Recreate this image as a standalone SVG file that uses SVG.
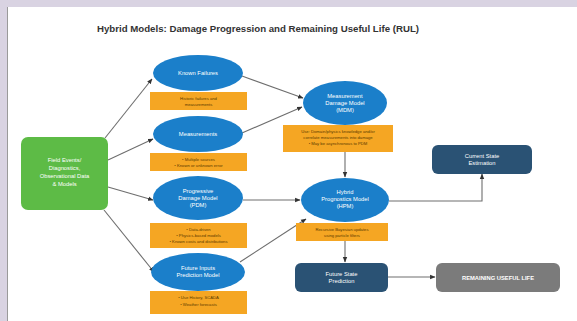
<svg xmlns="http://www.w3.org/2000/svg" width="577" height="321" viewBox="0 0 577 321">
<defs>
<marker id="ah" viewBox="0 0 10 10" refX="9" refY="5" markerWidth="5" markerHeight="5" orient="auto-start-reverse">
<path d="M0,1 L10,5 L0,9 z" fill="#333"/>
</marker>
<style>
.t{font-family:"Liberation Sans",Arial,sans-serif;}
.title{font-size:9.8px;font-weight:bold;fill:#333;}
.ell{fill:#1b7fca;}
.lab{font-size:5.8px;fill:#fff;text-anchor:middle;}
.note{fill:#f5a623;}
.nt{font-size:4.2px;fill:#5a3a00;text-anchor:middle;}
.dk{fill:#2a5274;}
.gr{fill:#7b7b7b;}
.con{stroke:#6e6e6e;stroke-width:1.1;fill:none;}
</style>
</defs>
<rect x="0" y="0" width="577" height="321" fill="#d9d3e2"/>
<rect x="8" y="7" width="569" height="314" fill="#ffffff"/>
<line x1="7.5" y1="7" x2="7.5" y2="321" stroke="#9a9a9a" stroke-width="1"/>
<text class="t title" x="258" y="32" text-anchor="middle" textLength="322" lengthAdjust="spacingAndGlyphs">Hybrid Models: Damage Progression and Remaining Useful Life (RUL)</text>

<g id="connectors">
<line class="con" x1="105" y1="138" x2="152" y2="79" marker-end="url(#ah)"/>
<line class="con" x1="108" y1="160" x2="153" y2="139" marker-end="url(#ah)"/>
<line class="con" x1="108" y1="187" x2="153" y2="200" marker-end="url(#ah)"/>
<line class="con" x1="104" y1="210" x2="154" y2="272" marker-end="url(#ah)"/>
<line class="con" x1="242" y1="76" x2="303" y2="98" marker-end="url(#ah)"/>
<line class="con" x1="242" y1="133" x2="302" y2="107" marker-end="url(#ah)"/>
<line class="con" x1="345" y1="152" x2="345" y2="177" marker-end="url(#ah)"/>
<line class="con" x1="243" y1="200" x2="300" y2="200" marker-end="url(#ah)"/>
<line class="con" x1="240" y1="262" x2="306" y2="219" marker-end="url(#ah)"/>
<polyline class="con" points="389,201 482,201 482,174" marker-end="url(#ah)"/>
<line class="con" x1="345" y1="241" x2="345" y2="262" marker-end="url(#ah)"/>
<line class="con" x1="388" y1="277" x2="435" y2="277" marker-end="url(#ah)"/>
</g>

<g id="field">
<rect x="21" y="137" width="87" height="73" rx="7" fill="#5dbb46"/>
<text class="t lab" x="64.5" y="162">Field Events/</text>
<text class="t lab" x="64.5" y="170">Diagnostics,</text>
<text class="t lab" x="64.5" y="178">Observational Data</text>
<text class="t lab" x="64.5" y="186">&amp; Models</text>
</g>

<g id="known">
<ellipse class="ell" cx="198" cy="73" rx="45" ry="18"/>
<text class="t lab" x="198" y="75">Known Failures</text>
<rect class="note" x="150" y="92" width="97" height="18"/>
<text class="t nt" x="198.5" y="99.5">Historic failures and</text>
<text class="t nt" x="198.5" y="105.5">measurements</text>
</g>

<g id="meas">
<ellipse class="ell" cx="198" cy="134" rx="45" ry="18"/>
<text class="t lab" x="198" y="136">Measurements</text>
<rect class="note" x="150" y="153" width="97" height="18"/>
<text class="t nt" x="198.5" y="160.5">• Multiple sources</text>
<text class="t nt" x="198.5" y="166.5">• Known or unknown error</text>
</g>

<g id="pdm">
<ellipse class="ell" cx="198" cy="198" rx="45" ry="22"/>
<text class="t lab" x="198" y="193">Progressive</text>
<text class="t lab" x="198" y="200">Damage Model</text>
<text class="t lab" x="198" y="207">(PDM)</text>
<rect class="note" x="150" y="223" width="97" height="25"/>
<text class="t nt" x="198.5" y="230.5">• Data-driven</text>
<text class="t nt" x="198.5" y="236.5">• Physics-based models</text>
<text class="t nt" x="198.5" y="242.5">• Known costs and distributions</text>
</g>

<g id="future">
<ellipse class="ell" cx="198" cy="272" rx="47" ry="19"/>
<text class="t lab" x="198" y="270">Future Inputs</text>
<text class="t lab" x="198" y="277">Prediction Model</text>
<rect class="note" x="150" y="291" width="97" height="23"/>
<text class="t nt" x="198.5" y="299">• Use History, SCADA</text>
<text class="t nt" x="198.5" y="306">• Weather forecasts</text>
</g>

<g id="mdm">
<ellipse class="ell" cx="345" cy="103" rx="42" ry="22"/>
<text class="t lab" x="345" y="98">Measurement</text>
<text class="t lab" x="345" y="105">Damage Model</text>
<text class="t lab" x="345" y="112">(MDM)</text>
<rect class="note" x="283" y="125" width="110" height="27"/>
<text class="t nt" x="338" y="133">Use: Domain/physics knowledge and/or</text>
<text class="t nt" x="338" y="139">correlate measurements into damage</text>
<text class="t nt" x="338" y="145">• May be asynchronous to PDM</text>
</g>

<g id="hpm">
<ellipse class="ell" cx="345" cy="200" rx="44" ry="22"/>
<text class="t lab" x="345" y="194">Hybrid</text>
<text class="t lab" x="345" y="201">Prognostics Model</text>
<text class="t lab" x="345" y="208">(HPM)</text>
<rect class="note" x="296" y="223" width="92" height="18"/>
<text class="t nt" x="342" y="230.5">Recursive Bayesian updates</text>
<text class="t nt" x="342" y="236.5">using particle filters</text>
</g>

<g id="current">
<rect class="dk" x="432" y="145" width="100" height="29" rx="6"/>
<text class="t lab" x="482" y="157.5">Current State</text>
<text class="t lab" x="482" y="165">Estimation</text>
</g>

<g id="futurestate">
<rect class="dk" x="295" y="263" width="93" height="29" rx="6"/>
<text class="t lab" x="341.5" y="275.5">Future State</text>
<text class="t lab" x="341.5" y="283">Prediction</text>
</g>

<g id="rul">
<rect class="gr" x="436" y="263" width="124" height="29" rx="6"/>
<text class="t lab" x="498" y="279.5" style="font-weight:bold">REMAINING USEFUL LIFE</text>
</g>
</svg>
